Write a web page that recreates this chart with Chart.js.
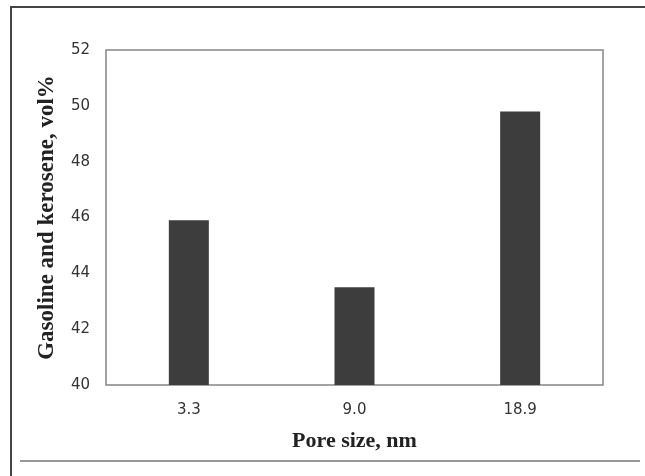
<!DOCTYPE html>
<html>
<head>
<meta charset="utf-8">
<script src="https://cdn.jsdelivr.net/npm/chart.js@4"></script>
<style>
  html, body { margin: 0; padding: 0; background: #fff; }
  #wrap { position: relative; width: 645px; height: 476px; overflow: hidden; }
  #chart { position: absolute; left: 0; top: 0; }
  .frameTop { position: absolute; left: 10px; top: 6px; width: 640px; height: 2px; background: #444; }
  .frameLeft { position: absolute; left: 10px; top: 6px; width: 2px; height: 480px; background: #444; }
  .frameBottom { position: absolute; left: 20px; top: 460px; width: 620px; height: 2px; background: #999; }
</style>
</head>
<body>
<div id="wrap">
  <canvas id="chart" width="645" height="476"></canvas>
  <div class="frameTop"></div>
  <div class="frameLeft"></div>
  <div class="frameBottom"></div>
</div>
<script>
// datos
const poreSizes = ['3.3', '9.0', '18.9'];
const gasolineKerosene = [45.9, 43.5, 49.8];
const yMin = 40;
const yMax = 52;
const yStep = 2;

// marco gris alrededor del área del gráfico
const plotFrame = {
    id: 'plotFrame',
    beforeDatasetsDraw(chart) {
        const { ctx, chartArea } = chart;
        ctx.save();
        ctx.strokeStyle = '#858585';
        ctx.lineWidth = 1.5;
        ctx.strokeRect(chartArea.left, chartArea.top, chartArea.right - chartArea.left, chartArea.bottom - chartArea.top);
        ctx.restore();
    }
};

const ctx = document.getElementById('chart').getContext('2d');
new Chart(ctx, {
    type: 'bar',
    data: {
        labels: poreSizes,
        datasets: [{
            label: 'Gasoline and kerosene',
            data: gasolineKerosene,
            backgroundColor: '#3d3d3d',
            borderWidth: 0,
            barPercentage: 0.2415,
            categoryPercentage: 1.0
        }]
    },
    options: {
        responsive: false,
        animation: false,
        layout: { padding: { left: 0, right: 42, top: 50, bottom: 21 } },
        plugins: {
            legend: { display: false },
            tooltip: { enabled: false }
        },
        scales: {
            x: {
                grid: { display: false, drawTicks: false },
                border: { display: false },
                ticks: {
                    color: '#333',
                    padding: 16,
                    font: { family: 'DejaVu Sans', size: 15 }
                },
                title: {
                    display: true,
                    text: 'Pore size, nm',
                    color: '#222',
                    padding: { top: 0, bottom: 0 },
                    font: { family: 'Liberation Serif', size: 22, weight: 'bold' }
                },
                afterFit: scale => { scale.height = 70; }
            },
            y: {
                min: yMin,
                max: yMax,
                grid: { display: false, drawTicks: false },
                border: { display: false },
                ticks: {
                    stepSize: yStep,
                    color: '#333',
                    padding: 16,
                    font: { family: 'DejaVu Sans', size: 15 }
                },
                title: {
                    display: true,
                    text: 'Gasoline and kerosene, vol%',
                    color: '#222',
                    padding: { top: 33, bottom: 0 },
                    font: { family: 'Liberation Serif', size: 23, weight: 'bold' }
                },
                afterFit: scale => { scale.width = 106; }
            }
        }
    },
    plugins: [plotFrame]
});
</script>
</body>
</html>
